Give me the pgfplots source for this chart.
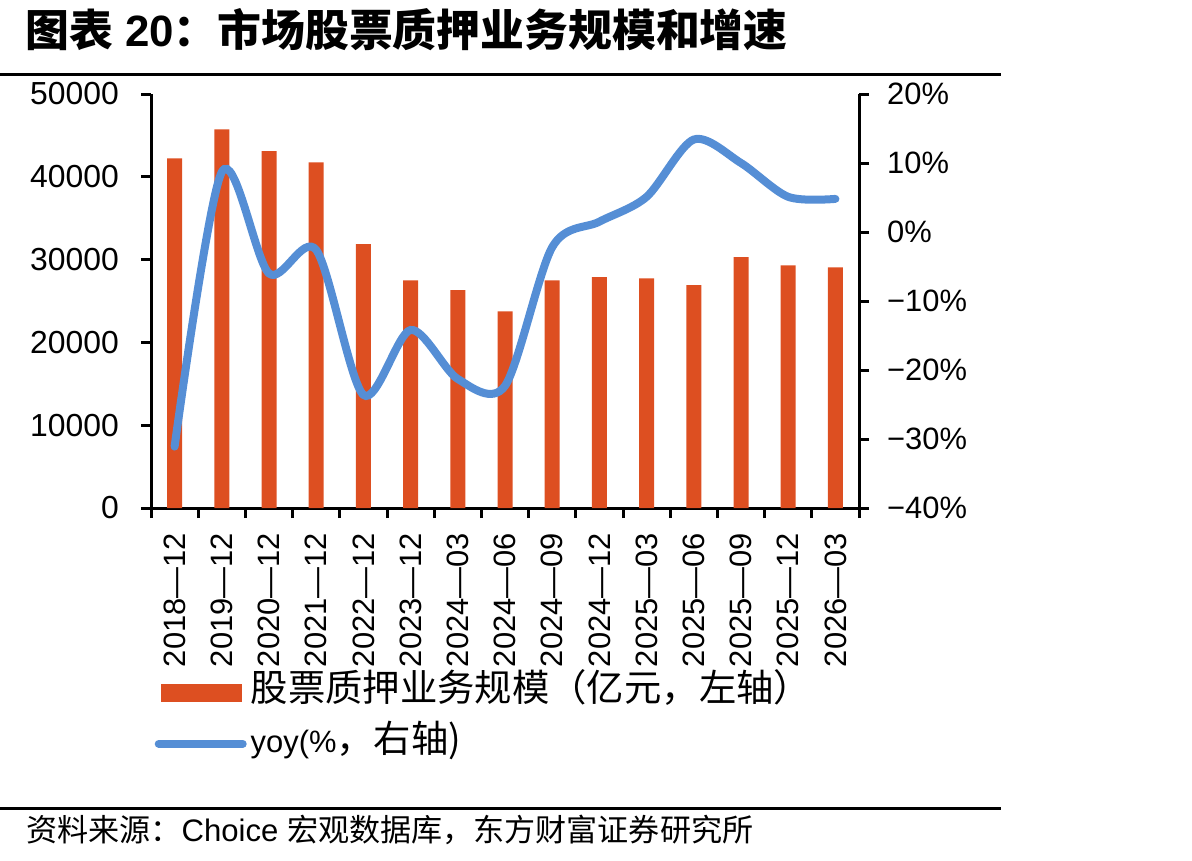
\documentclass[border=0pt]{standalone}
\usepackage{fontspec}
\setmainfont{Liberation Sans}
\newfontfamily\cjk{Noto Sans CJK SC}
\usepackage{pgfplots}
\pgfplotsset{compat=1.18}
\definecolor{barorange}{RGB}{221,79,33}
\definecolor{lineblue}{RGB}{85,142,213}
\begin{document}
\begin{tikzpicture}
\useasboundingbox (0,0) rectangle (1192bp,-861bp);
\node[anchor=west, inner sep=0] at (25bp,-30bp) {\fontsize{44}{44}\selectfont\bfseries{\cjk 图表} 20{\cjk ：市场股票质押业务规模和增速}};
\draw[line width=3bp] (0,-74bp) -- (1001bp,-74bp);
\draw[line width=3bp] (0,-808bp) -- (1001bp,-808bp);
\node[anchor=west, inner sep=0] at (26bp,-830bp) {\fontsize{31.2}{31.2}\selectfont{\cjk 资料来源：}Choice {\cjk 宏观数据库，东方财富证券研究所}};

\begin{axis}[
  at={(151bp,-508bp)}, anchor=south west, scale only axis,
  width=708bp, height=414bp,
  xmin=-0.5, xmax=14.5, ymin=0, ymax=50000,
  axis x line*=bottom, axis y line*=left,
  axis line style={line width=3bp, -},
  tick align=outside,
  major tick length=10bp, minor tick length=10bp,
  every tick/.style={line width=3bp, black},
  xtick={0,...,14},
  xticklabels={2018—12,2019—12,2020—12,2021—12,2022—12,2023—12,2024—03,2024—06,2024—09,2024—12,2025—03,2025—06,2025—09,2025—12,2026—03},
  major x tick style={draw=none},
  minor xtick={-0.5,0.5,...,14.5},
  x tick label style={rotate=90, anchor=east, font=\fontsize{31}{31}\selectfont, inner sep=0pt, xshift=-15bp},
  ytick={0,10000,...,50000},
  y tick label style={font=\fontsize{32}{32}\selectfont, inner sep=0pt, xshift=-22bp},
  /pgf/number format/assume math mode=true,
  /pgf/number format/1000 sep={},
  scaled y ticks=false,
  clip=false,
]
\addplot[ybar, bar width=15bp, fill=barorange, draw=none] coordinates {
(0,42235) (1,45737) (2,43116) (3,41751) (4,31884) (5,27500) (6,26329) (7,23756)
(8,27500) (9,27899) (10,27737) (11,26932) (12,30314) (13,29307) (14,29066)
};
\end{axis}

\begin{axis}[
  at={(151bp,-508bp)}, anchor=south west, scale only axis,
  width=708bp, height=414bp,
  xmin=-0.5, xmax=14.5, ymin=-40, ymax=20,
  axis y line*=right, axis x line=none,
  axis line style={line width=3bp, -},
  tick align=outside,
  major tick length=10bp,
  every tick/.style={line width=3bp, black},
  ytick={-40,-30,...,20},
  yticklabels={−40\%,−30\%,−20\%,−10\%,0\%,10\%,20\%},
  y tick label style={font=\fontsize{31}{31}\selectfont, inner sep=0pt, xshift=18bp},
  clip=false,
  legend style={at={(0.005,-0.395)}, anchor=north west, draw=none, fill=none,
    font=\fontsize{37.5}{37.5}\selectfont, row sep=9bp, inner sep=0pt,
    nodes={inner sep=4bp, text height=26bp, text depth=8bp}},
  legend cell align=left,
]
\addlegendimage{legend image code/.code={\fill[barorange] (0bp,-8.5bp) rectangle (80bp,8.5bp);}}
\addlegendentry{{\cjk 股票质押业务规模（亿元，左轴）}}
\addplot[smooth, line width=8bp, color=lineblue, line cap=round,
  legend image code/.code={\draw[line width=8bp, line cap=round, lineblue] (-2bp,0) -- (82bp,0);}]
  coordinates {
(0,-31.1) (1,8.7) (2,-6.0) (3,-2.6) (4,-23.6) (5,-14.2) (6,-21.3) (7,-22.3)
(8,-2.2) (9,1.5) (10,5.1) (11,13.4) (12,10.0) (13,5.1) (14,4.8)
};
\addlegendentry{{\fontsize{31}{31}\selectfont yoy(\%}{\cjk ，右轴)}}
\end{axis}
\end{tikzpicture}
\end{document}
